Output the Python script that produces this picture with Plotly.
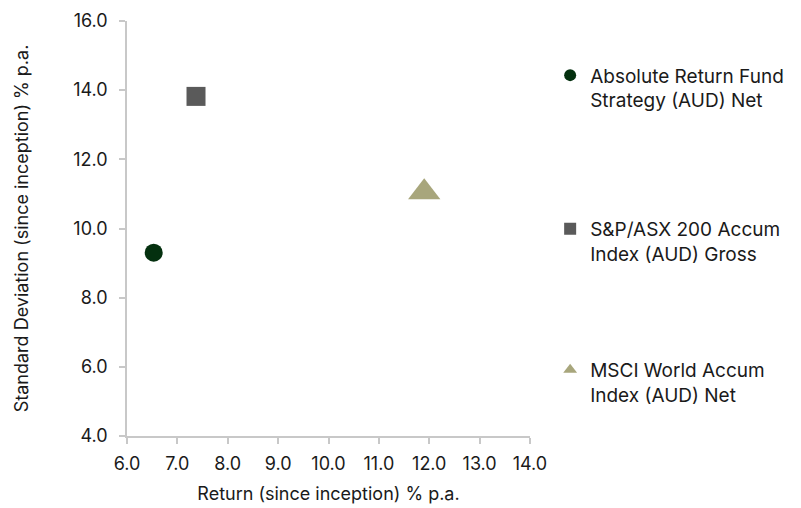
import plotly.graph_objects as go

# Risk / return since inception
series_names = [
    "Absolute Return Fund<br>Strategy (AUD) Net",
    "S&P/ASX 200 Accum<br>Index (AUD) Gross",
    "MSCI World Accum<br>Index (AUD) Net",
]
returns = [6.53, 7.37, 11.9]
std_devs = [9.3, 13.82, 11.05]
symbols = ["circle", "square", "triangle-up"]
colors = ["#04300f", "#5a5a5a", "#a8a67c"]
sizes = [18, 19, 28]

x_ticks = [6.0, 7.0, 8.0, 9.0, 10.0, 11.0, 12.0, 13.0, 14.0]
y_ticks = [4.0, 6.0, 8.0, 10.0, 12.0, 14.0, 16.0]

FONT = "Inter"
TEXT = "#1a1a1a"
AXIS = "#c8c8c8"

fig = go.Figure()
legend_ids = ["legend", "legend2", "legend3"]
legend_y = [0.915, 0.545, 0.205]

for i in range(len(series_names)):
    fig.add_trace(go.Scatter(
        x=[returns[i]], y=[std_devs[i]],
        mode="markers",
        name=series_names[i],
        marker=dict(symbol=symbols[i], color=colors[i], size=sizes[i],
                    line=dict(width=0)),
        legend=legend_ids[i],
        hoverinfo="skip",
    ))

axis_common = dict(
    showgrid=False, zeroline=False, automargin=False,
    showline=True, linecolor=AXIS, linewidth=1.5,
    ticks="outside", tickcolor=AXIS, tickwidth=1.5, ticklen=6,
    tickfont=dict(family=FONT, size=18, color=TEXT),
    tickformat=".1f",
)

fig.update_xaxes(
    range=[6.0, 14.0], tickvals=x_ticks,
    ticklabelstandoff=5,
    title=dict(text="Return (since inception) % p.a.",
               font=dict(family=FONT, size=18, color=TEXT), standoff=14),
    **axis_common,
)
fig.update_yaxes(
    range=[4.0, 16.0], tickvals=y_ticks,
    ticklabelstandoff=8,
    title=dict(text="Standard Deviation (since inception) % p.a.",
               font=dict(family=FONT, size=18, color=TEXT), standoff=40),
    **axis_common,
)

legend_style = dict(
    font=dict(family=FONT, size=19, color=TEXT),
    bgcolor="rgba(0,0,0,0)",
    itemsizing="constant",
    valign="top",
    xanchor="left", yanchor="top",
)

layout_legends = {}
for lid, ly in zip(legend_ids, legend_y):
    layout_legends[lid] = dict(x=1.05, y=ly, **legend_style)

fig.update_layout(
    width=801, height=508,
    margin=dict(l=127, r=269, t=21, b=72),
    plot_bgcolor="white", paper_bgcolor="white",
    showlegend=True,
    **layout_legends,
)

fig.write_html("out.html")
